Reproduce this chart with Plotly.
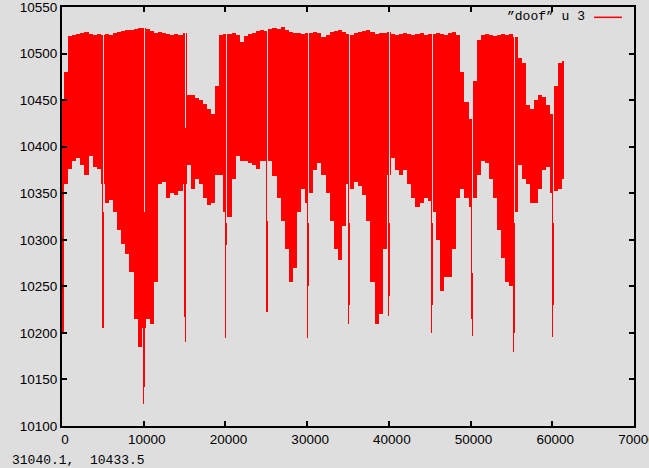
import plotly.graph_objects as go

# ---- data ----
sample_x = [0, 500, 1000, 1500, 2000, 2500, 3000, 3500, 4000, 4500,
            5000, 5500, 6000, 6500, 7000, 7500, 8000, 8500, 9000, 9500,
            10000, 10500, 11000, 11500, 12000, 12500, 13000, 13500, 14000, 14500,
            15000, 15500, 16000, 16500, 17000, 17500, 18000, 18500, 19000, 19500,
            20000, 20500, 21000, 21500, 22000, 22500, 23000, 23500, 24000, 24500,
            25000, 25500, 26000, 26500, 27000, 27500, 28000, 28500, 29000, 29500,
            30000, 30500, 31000, 31500, 32000, 32500, 33000, 33500, 34000, 34500,
            35000, 35500, 36000, 36500, 37000, 37500, 38000, 38500, 39000, 39500,
            40000, 40500, 41000, 41500, 42000, 42500, 43000, 43500, 44000, 44500,
            45000, 45500, 46000, 46500, 47000, 47500, 48000, 48500, 49000, 49500,
            50000, 50500, 51000, 51500, 52000, 52500, 53000, 53500, 54000, 54500,
            55000, 55500, 56000, 56500, 57000, 57500, 58000, 58500, 59000, 59500,
            60000, 60500, 61000, 61400]

upper = [10450, 10480, 10519, 10520, 10521, 10522, 10523, 10521, 10520, 10521,
         10520, 10521, 10520, 10522, 10523, 10524, 10525, 10525, 10526, 10527,
         10527, 10526, 10524, 10522, 10523, 10522, 10521, 10520, 10521, 10520,
         10522, 10455, 10455, 10452, 10450, 10446, 10440, 10435, 10465, 10520,
         10521, 10521, 10522, 10520, 10512, 10519, 10521, 10522, 10524, 10525,
         10524, 10526, 10527, 10526, 10528, 10525, 10523, 10522, 10522, 10521,
         10522, 10522, 10523, 10522, 10518, 10520, 10523, 10524, 10525, 10523,
         10521, 10520, 10522, 10523, 10524, 10525, 10523, 10521, 10522, 10522,
         10523, 10521, 10520, 10521, 10522, 10521, 10520, 10521, 10522, 10520,
         10521, 10521, 10522, 10521, 10520, 10522, 10523, 10520, 10480, 10448,
         10430, 10470, 10515, 10520, 10521, 10520, 10519, 10520, 10521, 10520,
         10521, 10518, 10495, 10490, 10445, 10440, 10450, 10455, 10453, 10445,
         10435, 10465, 10490, 10492]

lower = [10200, 10360, 10376, 10385, 10388, 10380, 10370, 10390, 10378, 10376,
         10360, 10340, 10343, 10330, 10310, 10295, 10285, 10265, 10215, 10185,
         10205, 10215, 10210, 10255, 10360, 10362, 10345, 10350, 10348, 10352,
         10360, 10380, 10355, 10365, 10360, 10345, 10337, 10340, 10370, 10370,
         10330, 10325, 10365, 10390, 10385, 10385, 10382, 10380, 10376, 10385,
         10385, 10385, 10368, 10345, 10320, 10290, 10255, 10270, 10330, 10355,
         10340, 10350, 10375, 10382, 10370, 10350, 10320, 10290, 10278, 10315,
         10360, 10355, 10362, 10358, 10348, 10320, 10255, 10210, 10220, 10290,
         10370, 10388, 10375, 10370, 10375, 10360, 10345, 10335, 10340, 10345,
         10342, 10330, 10300, 10245, 10260, 10260, 10290, 10345, 10355, 10345,
         10335, 10345, 10370, 10385, 10382, 10365, 10345, 10310, 10280, 10255,
         10250, 10330, 10380, 10365, 10360, 10340, 10340, 10355, 10375, 10378,
         10350, 10352, 10355, 10365]

# single-sample downward spikes (minimum in that narrow column)
spike_x = [4976, 9986, 14976, 19976, 25056, 30076, 35096, 39996, 45176, 50116, 55296, 60076]
spike_lo = [10205, 10124, 10217, 10195, 10222, 10195, 10210, 10218, 10200, 10215, 10180, 10196]

# drop-out samples (narrow columns with low maximum)
gap_x = [5100, 10110, 15100, 20100, 25180, 30200, 35220, 40120, 45300, 50240, 55420, 60200]
gap_hi = [10330, 10330, 10420, 10318, 10320, 10318, 10318, 10318, 10318, 10264, 10318, 10318]
gap_lo = [10205, 10142, 10190, 10294, 10222, 10250, 10230, 10240, 10230, 10197, 10200, 10230]

col_half = 62

x_ticks = [0, 10000, 20000, 30000, 40000, 50000, 60000, 70000]
y_ticks = [10100, 10150, 10200, 10250, 10300, 10350, 10400, 10450, 10500, 10550]

# ---- build column segments ----
edges = [sample_x[0]] + [(a + b) / 2 for a, b in zip(sample_x[:-1], sample_x[1:])] + [sample_x[-1]]
segs = [(edges[i], edges[i + 1], lower[i], upper[i]) for i in range(len(sample_x))]


def insert_column(segs, c, half, lo_new, hi_new):
    a, b = c - half, c + half
    out = []
    host_hi = None
    for (s0, s1, lo, hi) in segs:
        if s1 <= a or s0 >= b:
            out.append((s0, s1, lo, hi))
        else:
            if s0 <= c < s1:
                host_hi = hi
            if s0 < a:
                out.append((s0, a, lo, hi))
            if s1 > b:
                out.append((b, s1, lo, hi))
    if hi_new is None:
        hi_new = host_hi
    out.append((a, b, lo_new, hi_new))
    return out


for sx, sl in zip(spike_x, spike_lo):
    segs = insert_column(segs, sx, col_half, sl, None)
for gx, gh, gl in zip(gap_x, gap_hi, gap_lo):
    segs = insert_column(segs, gx, col_half, gl, gh)

bx = [(s[0] + s[1]) / 2 for s in segs]
bw = [s[1] - s[0] for s in segs]
bbase = [s[2] for s in segs]
bh = [s[3] - s[2] for s in segs]

RED = "#ff0000"
BAR_RED = "rgba(255,0,0,0.999)"  # keeps plotly's pixel rounding (no thin-bar expansion)
BG = "#dedede"

fig = go.Figure()
fig.add_trace(go.Bar(x=bx, y=bh, base=bbase, width=bw,
                     marker=dict(color=BAR_RED, line=dict(width=0)),
                     showlegend=False, hoverinfo="skip"))

axis_font = dict(family="Liberation Sans, Arial, sans-serif", size=13.5, color="black")
fig.update_layout(
    width=649, height=468,
    paper_bgcolor=BG, plot_bgcolor=BG,
    margin=dict(l=62, r=15, t=7, b=42, autoexpand=False),
    bargap=0,
    showlegend=False,
    xaxis=dict(range=[0, 70000], tickvals=x_ticks, ticktext=[str(v) for v in x_ticks],
               ticks="inside", ticklen=5, tickwidth=2, tickcolor="black",
               showline=True, linewidth=2, linecolor="black", mirror="ticks",
               showgrid=False, zeroline=False, tickfont=axis_font,
               ticklabelshift=3, ticklabeloverflow="allow", automargin=False),
    yaxis=dict(range=[10100, 10550], tickvals=y_ticks, ticktext=[str(v) for v in y_ticks],
               ticks="inside", ticklen=5, tickwidth=2, tickcolor="black",
               showline=True, linewidth=2, linecolor="black", mirror="ticks",
               showgrid=False, zeroline=False, tickfont=axis_font,
               ticklabeloverflow="allow", automargin=False),
)

mono = dict(family="Liberation Mono, DejaVu Sans Mono, monospace", size=13, color="black")
fig.add_annotation(xref="paper", yref="paper", x=0.9178, y=0.9769,
                   xanchor="right", yanchor="middle", showarrow=False,
                   text="\u201ddoof\u201d u 3", font=mono)
fig.add_shape(type="line", xref="paper", yref="paper",
              x0=0.930, x1=0.979, y0=0.9754, y1=0.9754,
              line=dict(color=RED, width=1.5))
fig.add_annotation(xref="paper", yref="paper", x=-0.0909, y=-0.0835,
                   xanchor="left", yanchor="middle", showarrow=False,
                   text="31040.1,  10433.5", font=mono)

fig.write_html("out.html", config={"displayModeBar": False},
               post_script="document.body.style.margin='0';document.body.style.background='#dedede';")
